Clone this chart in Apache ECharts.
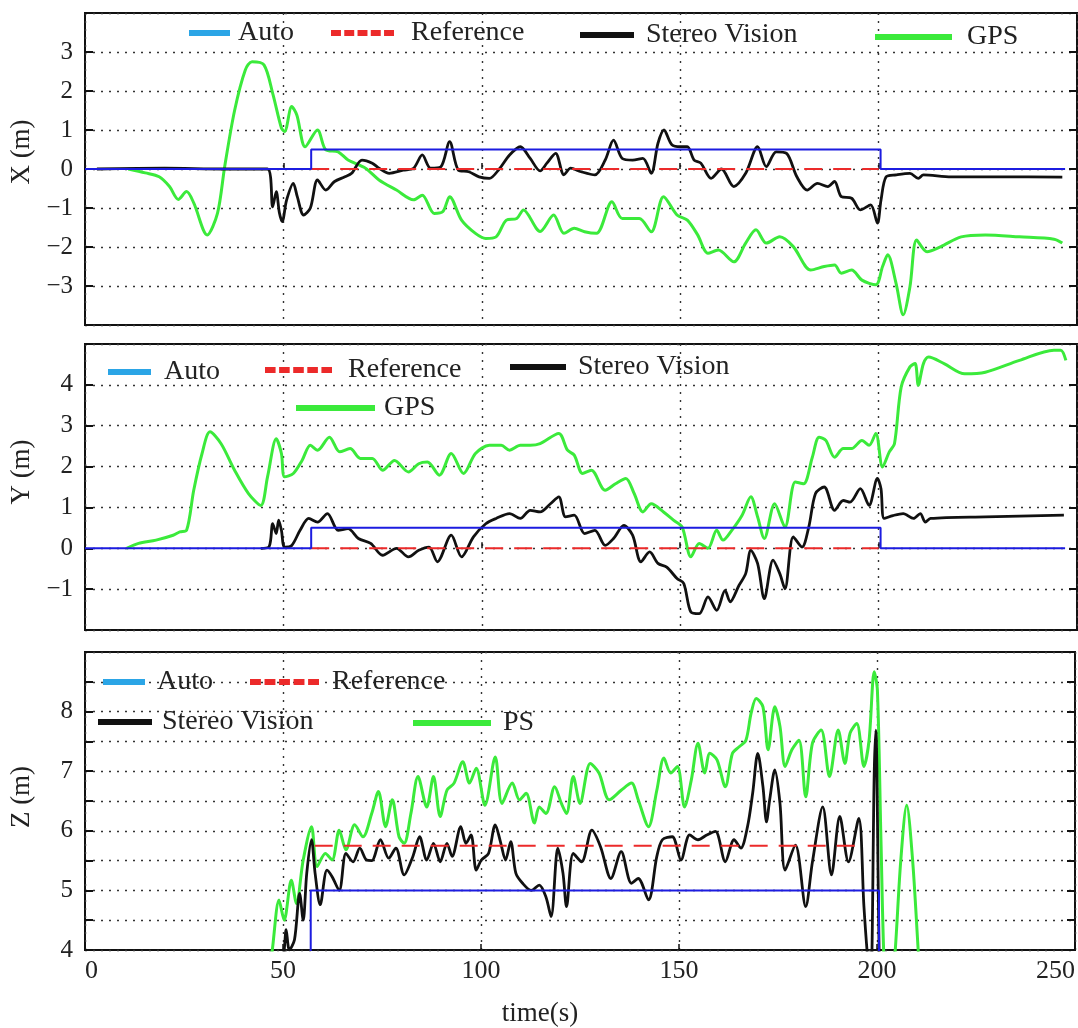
<!DOCTYPE html>
<html>
<head>
<meta charset="utf-8">
<script src="https://cdn.jsdelivr.net/npm/echarts@6/dist/echarts.min.js"></script>
<style>
  html, body { margin: 0; padding: 0; background: #fff; }
  #box { width: 1078px; height: 1028px; }
</style>
</head>
<body>
<div id="box"></div>
<script>
// time (s) ticks
var timeTicks = [0, 50, 100, 150, 200, 250]

// X panel
var autoX = [[0, 0], [57, 0], [57, 0.5], [200.5, 0.5], [200.5, 0], [247, 0]]
var refX = [[57, 0], [200, 0]]
var stereoX = [[3, 0], [20, 0.02], [35, 0], [46, 0], [47.3, -0.97], [48.2, -0.58], [49, -1.13], [49.7, -1.35], [50.8, -0.8], [52.5, -0.37], [53.5, -0.71], [55.1, -1.18], [56.8, -1.0], [58.6, -0.28], [60.7, -0.54], [62.9, -0.32], [65.5, -0.2], [67.2, -0.11], [69.8, 0.23], [72.4, 0.15], [74.1, 0.02], [76.7, -0.11], [80.2, -0.03], [82.8, 0.02], [85, 0.36], [87.1, 0.02], [89.7, 0.06], [91.9, 0.7], [94.1, -0.03], [96.7, -0.07], [99.3, -0.2], [101.9, -0.24], [104.4, 0], [107, 0.36], [109.7, 0.57], [112.2, 0.27], [114.7, -0.05], [116.4, 0.15], [118.6, 0.4], [120.7, -0.15], [122.4, 0.02], [125, -0.07], [128.5, -0.15], [131.1, 0.23], [133.2, 0.74], [135.4, 0.27], [138, 0.23], [140.6, 0.27], [142.7, -0.11], [144.4, 0.66], [145.9, 1.0], [147.9, 0.62], [150.1, 0.57], [151.8, 0.57], [153.5, 0.23], [155.2, 0.15], [157.8, -0.24], [160.4, 0], [163.5, -0.45], [166.5, -0.11], [169.5, 0.57], [171.7, 0.06], [174.2, 0.44], [176.8, 0.4], [179.4, -0.2], [182, -0.54], [184.6, -0.37], [187.2, -0.45], [188.9, -0.32], [190.6, -0.71], [193.2, -0.75], [195.4, -1.05], [198, -0.92], [199.7, -1.39], [200.6, -0.8], [201.9, -0.2], [204.4, -0.15], [207.9, -0.11], [210, -0.24], [211.3, -0.15], [218.3, -0.2], [231.2, -0.2], [246.3, -0.21]]
var gpsX = [[10.9, 0], [15.2, -0.1], [18.7, -0.2], [21.3, -0.45], [23.5, -0.78], [25.6, -0.58], [27.4, -0.87], [30.8, -1.69], [33.4, -1.13], [35.2, 0.06], [37.7, 1.5], [40.4, 2.54], [42.1, 2.75], [45.1, 2.67], [47.3, 1.94], [49.5, 1.05], [50.3, 0.96], [52.1, 1.6], [53.4, 1.38], [55.5, 0.57], [58.6, 1.0], [60.7, 0.49], [63.8, 0.44], [66.3, 0.23], [70.7, 0.02], [74.1, -0.28], [78.5, -0.54], [82.8, -0.79], [85, -0.67], [88, -1.14], [90.2, -1.09], [91.9, -0.71], [94.9, -1.31], [98.4, -1.65], [101, -1.78], [103.6, -1.74], [106.2, -1.31], [108.8, -1.27], [110.5, -1.05], [114.7, -1.6], [118.1, -1.18], [120.7, -1.65], [123.3, -1.52], [125.9, -1.61], [128.9, -1.65], [132.8, -0.84], [135.4, -1.27], [139.7, -1.27], [142.7, -1.61], [145.8, -0.71], [149.2, -1.18], [151.8, -1.31], [154.4, -1.69], [157, -2.16], [159.6, -2.08], [163.5, -2.38], [166.5, -1.9], [169.1, -1.56], [171.7, -1.9], [175.1, -1.74], [178.5, -1.99], [182.9, -2.59], [186.3, -2.5], [188.9, -2.46], [190.6, -2.67], [193.2, -2.59], [195.8, -2.85], [199.3, -2.97], [201, -2.5], [202.3, -2.2], [204.4, -2.93], [206.2, -3.74], [207.9, -3.02], [209.6, -1.82], [212.2, -2.12], [215.7, -1.99], [220.8, -1.74], [226.9, -1.69], [235.5, -1.74], [244.2, -1.8], [246.3, -1.9]]

// Y panel
var autoY = [[0, 0], [57, 0], [57, 0.5], [200.5, 0.5], [200.5, 0], [247, 0]]
var refY = [[57, 0], [200, 0]]
var stereoY = [[44.3, 0], [46.4, 0.04], [47.3, 0.6], [48.2, 0.36], [48.8, 0.69], [49.5, 0.44], [50.3, 0.03], [52.1, 0.07], [54.2, 0.44], [56.4, 0.73], [58.6, 0.64], [61.1, 0.85], [63.8, 0.44], [66.3, 0.48], [68.9, 0.24], [72, 0.12], [75, -0.17], [78.5, 0], [81.5, -0.21], [84.1, -0.05], [86.7, 0.03], [88.8, -0.33], [92.3, 0.32], [94.9, -0.21], [97.9, 0.28], [101, 0.6], [103.6, 0.73], [107, 0.85], [109.7, 0.73], [112.2, 0.93], [114.7, 0.89], [117.3, 1.09], [119.4, 1.26], [121.1, 0.77], [123.3, 0.81], [125.9, 0.36], [128.5, 0.44], [131.1, 0.07], [133.2, 0.24], [135.8, 0.56], [138, 0.32], [140.1, -0.33], [142.3, -0.09], [144.4, -0.37], [146.6, -0.46], [149.2, -0.74], [150.9, -0.86], [152.7, -1.56], [154.8, -1.6], [157, -1.19], [159.2, -1.52], [161.3, -1.03], [162.6, -1.31], [164.8, -0.91], [166.5, -0.62], [167.8, -0.05], [169.5, -0.37], [171.2, -1.23], [173.4, -0.29], [175.1, -0.62], [176.4, -0.99], [178.5, 0.28], [180.7, 0.03], [182.4, 0.52], [184.1, 1.34], [186.3, 1.5], [188.9, 0.93], [191.1, 1.17], [192.8, 1.13], [195.4, 1.46], [197.6, 1.05], [199.7, 1.71], [200.6, 1.46], [201.4, 0.73], [203.6, 0.8], [206.2, 0.85], [208.8, 0.73], [210.5, 0.85], [211.8, 0.64], [213.1, 0.73], [226.9, 0.77], [246.7, 0.81]]
var gpsY = [[10.5, 0], [13.5, 0.12], [17.9, 0.2], [22.2, 0.32], [23.9, 0.4], [25.6, 0.44], [27.4, 1.42], [29.5, 2.32], [31.5, 2.85], [34.3, 2.56], [37.7, 1.91], [41.2, 1.34], [44.3, 1.05], [46, 1.75], [48.2, 2.68], [49.5, 2.32], [50.3, 1.75], [52.5, 1.83], [54.7, 2.15], [56.8, 2.52], [58.6, 2.4], [61.6, 2.72], [64.2, 2.36], [66.8, 2.44], [69.4, 2.2], [72.4, 2.2], [75, 1.91], [78, 2.15], [81.5, 1.87], [84.1, 2.07], [86.3, 2.11], [89.3, 1.79], [92.3, 2.32], [95.4, 1.83], [98.4, 2.32], [101.9, 2.52], [104.9, 2.52], [107, 2.4], [109.7, 2.52], [112.2, 2.52], [114.7, 2.56], [119.4, 2.81], [121.6, 2.4], [123.3, 2.28], [125.4, 1.83], [127.6, 1.91], [131.1, 1.42], [133.7, 1.58], [136.3, 1.71], [138.4, 1.34], [140.6, 0.89], [142.7, 1.09], [145.8, 0.89], [148.3, 0.69], [150.5, 0.52], [152.7, -0.21], [154.8, 0.12], [157, 0], [159.2, 0.44], [160.8, 0.2], [163, 0.44], [165.6, 0.81], [167.8, 1.26], [169.5, 0.77], [171.2, 0.24], [173.8, 1.09], [176.4, 0.52], [179, 1.62], [181.1, 1.58], [183.3, 2.23], [185, 2.72], [186.7, 2.64], [188.9, 2.23], [191.1, 2.44], [193.2, 2.44], [195.8, 2.64], [197.6, 2.52], [199.3, 2.81], [201, 1.99], [202.7, 2.36], [204, 2.56], [205.7, 3.95], [207.9, 4.44], [209.2, 4.52], [210, 3.99], [211.3, 4.52], [212.6, 4.68], [216.5, 4.52], [221.7, 4.27], [226.9, 4.31], [235.5, 4.6], [244.2, 4.85], [245.9, 4.85], [247.2, 4.6]]

// Z panel
var autoZ = [[0, 0], [57, 0], [57, 5], [200.5, 5], [200.5, 0], [247, 0]]
var refZ = [[58, 5.75], [196, 5.75]]
var stereoZ = [[49.4, 3.6], [50.3, 4.0], [50.8, 4.34], [51.6, 4.0], [52.9, 4.17], [54.2, 4.95], [55.1, 4.5], [56, 5.29], [57.2, 5.85], [58.1, 5.29], [59.4, 4.76], [61.1, 5.34], [62.4, 5.23], [64.2, 5.0], [65.9, 5.62], [67.7, 5.48], [69.4, 5.71], [71.1, 5.51], [72.4, 5.5], [74.6, 5.85], [76.7, 5.54], [78.5, 5.71], [80.6, 5.26], [82.8, 5.57], [84.5, 5.9], [86.3, 5.51], [88, 5.79], [89.7, 5.48], [91.4, 5.79], [92.7, 5.57], [94.9, 6.07], [96.2, 5.79], [97.5, 5.93], [98.8, 5.34], [100.1, 5.51], [101.9, 5.62], [103.6, 6.1], [104.9, 5.82], [106.2, 5.51], [107.5, 5.82], [108.8, 5.29], [110.5, 5.12], [112.7, 5.0], [114.7, 5.09], [116.4, 4.89], [117.7, 4.56], [119.4, 5.71], [120.7, 5.29], [121.6, 4.73], [123.3, 5.62], [125.4, 5.48], [128, 6.01], [130.2, 5.73], [132.8, 5.2], [135.4, 5.65], [138, 5.12], [139.7, 5.2], [142.3, 4.84], [144.4, 5.57], [145.8, 5.85], [148.3, 5.9], [150.5, 5.51], [152.7, 5.93], [154.8, 5.85], [157, 5.93], [159.2, 5.99], [161.7, 5.48], [163.9, 5.85], [165.6, 5.71], [167.3, 6.07], [168.6, 6.63], [169.9, 7.3], [171.2, 6.74], [172.1, 6.15], [172.9, 6.52], [174.2, 7.02], [175.5, 6.46], [176.8, 5.34], [179.4, 5.76], [182, 4.73], [183.7, 5.48], [186.3, 6.4], [188.5, 5.26], [190.6, 6.24], [192.8, 5.48], [195.4, 6.21], [196.7, 4.73], [197.6, 3.9], [198.4, 3.4], [199.3, 6.97], [199.7, 7.69], [200.6, 3.8], [201.3, 3.0]]
var gpsZ = [[46.5, 3.6], [47.3, 4.0], [49, 4.84], [50.3, 4.5], [52.1, 5.17], [53.4, 4.78], [55.1, 5.51], [57.2, 6.07], [58.6, 5.4], [60.7, 5.62], [62.4, 5.51], [64.2, 6.01], [65.9, 5.68], [68.1, 6.1], [70.2, 5.9], [72.4, 6.29], [74.1, 6.66], [75.9, 6.07], [77.6, 6.52], [79.3, 5.9], [80.6, 5.79], [82.3, 6.29], [84.1, 6.91], [86.3, 6.4], [88, 6.91], [89.7, 6.24], [91.4, 6.68], [93.2, 6.8], [95.4, 7.16], [97.1, 6.8], [98.8, 7.05], [101, 6.43], [103.6, 7.24], [105.3, 6.46], [107.9, 6.8], [109.7, 6.52], [111.4, 6.63], [113.5, 6.13], [114.7, 6.4], [116.4, 6.29], [118.6, 6.74], [120.3, 6.46], [121.6, 6.29], [123.3, 6.91], [125, 6.46], [127.6, 7.13], [129.8, 6.97], [132.4, 6.52], [135.4, 6.68], [138, 6.8], [139.7, 6.52], [142.3, 6.07], [144.4, 6.68], [146.2, 7.22], [147.9, 6.97], [149.6, 7.08], [151.4, 6.4], [153.1, 6.85], [154.8, 7.47], [156.5, 6.97], [157.8, 7.3], [159.6, 7.19], [161.7, 6.74], [163.5, 7.3], [165.2, 7.41], [166.9, 7.52], [168.2, 7.97], [169.5, 8.22], [171.2, 8.08], [172.5, 7.36], [174.2, 8.08], [175.5, 7.75], [176.8, 7.08], [178.5, 7.36], [180.3, 7.52], [182, 6.57], [183.7, 7.47], [185.9, 7.69], [188, 6.91], [190.2, 7.69], [191.9, 7.13], [193.2, 7.64], [194.9, 7.8], [196.7, 7.08], [198, 7.52], [199.3, 8.67], [200.1, 8.36], [201, 5.85], [201.9, 3.6], [203, 3.0], [204.4, 3.8], [206, 5.5], [207.5, 6.43], [209, 5.5], [210.5, 3.9], [211.5, 3.0]]

var FONT = "'Liberation Serif', 'DejaVu Serif', serif"
var BLUE = '#1c1ce0'
var LEG_BLUE = '#2ba5e6'
var RED = '#ec2a2a'
var BLACK = '#111'
var GREEN = '#3bea3b'

var dotted = { type: [2, 6], color: '#333', width: 1.4 }

function dashIcon(w) {
    var d = w * 3 / 19, g = d / 3, p = 'path://'
    for (var i = 0; i < 5; i++) {
        var x = i * (d + g)
        p += 'M' + x + ',0h' + d + 'v6h' + (-d) + 'z'
    }
    return p
}

function leg(name, icon, color, left, top, w, pad) {
    return {
        data: [{ name: name, icon: icon, itemStyle: { color: color } }],
        left: left, top: top, padding: 0,
        itemWidth: w, itemHeight: 6,
        selectedMode: false,
        textStyle: { fontFamily: FONT, fontSize: 28, color: '#222', padding: [0, 0, 0, pad] }
    }
}

function minus(v) {
    return v < 0 ? '\u2212' + (-v) : String(v)
}

var grids = [
    { left: 84, right: 1, top: 13, height: 312 },
    { left: 84, right: 1, top: 344, height: 286 },
    { left: 84, right: 1, top: 652, height: 298 }
]
var yr = [
    { min: -4, max: 4, interval: 1, name: 'X (m)', pad: 34 },
    { min: -2, max: 5, interval: 1, name: 'Y (m)', pad: 30 },
    { min: 4, max: 9, interval: 0.5, name: 'Z (m)', pad: 8 }
]

var xAxes = grids.map(function (g, i) {
    return {
        gridIndex: i, type: 'value', min: 0, max: 250, interval: 50,
        axisLine: { show: false },
        axisTick: { inside: true, length: 6, lineStyle: { color: BLACK, width: 1.5 } },
        axisLabel: {
            show: i === 2, fontFamily: FONT, fontSize: 26, color: '#222', margin: 8,
            alignMinLabel: 'left', alignMaxLabel: 'right',
            customValues: timeTicks
        },
        splitLine: { show: true, lineStyle: dotted },
        name: i === 2 ? 'time(s)' : '',
        nameLocation: 'middle', nameGap: 50,
        nameTextStyle: { fontFamily: FONT, fontSize: 27, color: '#222', padding: [0, 80, 0, 0] }
    }
})

var yAxes = []
yr.forEach(function (r, i) {
    yAxes.push({
        gridIndex: i, type: 'value', min: r.min, max: r.max, interval: r.interval,
        axisLine: { show: false },
        axisTick: { inside: true, length: 8, lineStyle: { color: BLACK, width: 2 } },
        axisLabel: {
            fontFamily: FONT, fontSize: 25, color: '#222', margin: 12,
            formatter: function (v) {
                if (v === r.max) return ''
                if (i < 2 && v === r.min) return ''
                if (v !== Math.round(v)) return ''
                return minus(v)
            }
        },
        splitLine: { show: true, lineStyle: dotted },
        name: r.name, nameLocation: 'middle', nameGap: 50,
        nameTextStyle: { fontFamily: FONT, fontSize: 27, color: '#222', padding: [0, 0, 0, r.pad] }
    })
})
yr.forEach(function (r, i) {
    yAxes.push({
        gridIndex: i, type: 'value', position: 'right', min: r.min, max: r.max, interval: r.interval,
        axisLine: { show: false },
        axisTick: { inside: true, length: 8, lineStyle: { color: BLACK, width: 2 } },
        axisLabel: { show: false },
        splitLine: { show: false }
    })
})

function line(name, data, i, color, width, dash, z) {
    return {
        name: name, type: 'line', xAxisIndex: i, yAxisIndex: i,
        data: data, symbol: 'none', smooth: dash ? false : 0.3,
        lineStyle: { color: color, width: width, type: dash || 'solid' },
        itemStyle: { color: color },
        z: z
    }
}

var series = []
var panels = [
    [autoX, refX, stereoX, gpsX, 'GPS'],
    [autoY, refY, stereoY, gpsY, 'GPS'],
    [autoZ, refZ, stereoZ, gpsZ, 'PS']
]
panels.forEach(function (p, i) {
    series.push(line(p[4], p[3], i, GREEN, 3, null, 2))
    series.push(line('Stereo Vision', p[2], i, BLACK, 2.8, null, 3))
    series.push(line('Reference', p[1], i, RED, 2, [18, 11], 4))
    series.push(line('Auto', p[0], i, BLUE, 2, null, 5))
    series[series.length - 1].smooth = false
})

var chart = echarts.init(document.getElementById('box'))
chart.setOption({
    animation: false,
    backgroundColor: '#fff',
    grid: grids.map(function (g) {
        return Object.assign({ show: true, borderColor: BLACK, borderWidth: 2, backgroundColor: 'transparent' }, g)
    }),
    legend: [
        leg('Auto', 'rect', LEG_BLUE, 189, 19, 41, 3),
        leg('Reference', dashIcon(63), RED, 331, 19, 63, 12),
        leg('Stereo Vision', 'rect', BLACK, 580, 21, 54, 7),
        leg('GPS', 'rect', GREEN, 875, 23, 77, 10),

        leg('Auto', 'rect', LEG_BLUE, 108, 358, 43, 8),
        leg('Reference', dashIcon(67), RED, 265, 356, 67, 11),
        leg('Stereo Vision', 'rect', BLACK, 510, 353, 56, 7),
        leg('GPS', 'rect', GREEN, 296, 394, 79, 4),

        leg('Auto', 'rect', LEG_BLUE, 103, 668, 42, 7),
        leg('Reference', dashIcon(69), RED, 250, 668, 69, 8),
        leg('Stereo Vision', 'rect', BLACK, 98, 708, 54, 5),
        leg('PS', 'rect', GREEN, 413, 709, 78, 7)
    ],
    xAxis: xAxes,
    yAxis: yAxes,
    series: series
})
</script>
</body>
</html>
